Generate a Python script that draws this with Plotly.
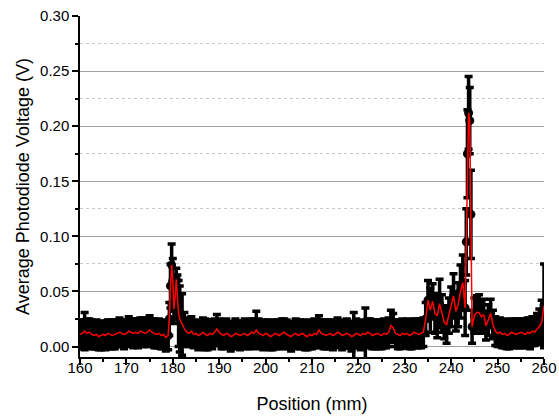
import numpy as np
import plotly.graph_objects as go

# Positions (mm): 0.5 mm step, finer (0.25 mm) across the two peaks
position = np.concatenate([
    np.arange(160, 179.01, 0.5),
    [179.25, 179.5, 179.75, 180.0, 180.25, 180.5, 180.75, 181.0, 181.25],
    np.arange(181.5, 243.01, 0.5),
    [243.25, 243.5, 243.75, 244.0, 244.25],
    np.arange(244.5, 260.01, 0.5),
])

# Average photodiode voltage (V)
voltage = [
    # 160.0 - 179.0
    0.011, 0.012, 0.014, 0.012, 0.013, 0.011, 0.010, 0.011, 0.009, 0.010,
    0.011, 0.010, 0.012, 0.011, 0.010, 0.011, 0.012, 0.013, 0.012, 0.011,
    0.012, 0.014, 0.013, 0.012, 0.013, 0.012, 0.014, 0.013, 0.012, 0.013,
    0.015, 0.013, 0.012, 0.011, 0.012, 0.010, 0.011, 0.008, 0.010,
    # 179.25 - 181.25
    0.025, 0.055, 0.074, 0.060, 0.034, 0.045, 0.061, 0.045, 0.030,
    # 181.5 - 243.0
    0.025, 0.020, 0.016, 0.013, 0.012, 0.014, 0.011,
    0.012, 0.010, 0.011, 0.013, 0.011, 0.010, 0.012, 0.011, 0.013, 0.016,
    0.013, 0.011, 0.010, 0.012, 0.011, 0.009, 0.010, 0.012, 0.011, 0.010,
    0.011, 0.012, 0.010, 0.011, 0.013, 0.012, 0.015, 0.012, 0.011, 0.010,
    0.012, 0.011, 0.009, 0.010, 0.012, 0.011, 0.010, 0.012, 0.013, 0.011,
    0.010, 0.009, 0.011, 0.012, 0.010, 0.011, 0.012, 0.010, 0.009, 0.011,
    0.010, 0.012, 0.011, 0.015, 0.012, 0.011, 0.010, 0.011, 0.012, 0.010,
    0.011, 0.013, 0.012, 0.010, 0.011, 0.012, 0.011, 0.009, 0.010, 0.012,
    0.011, 0.010, 0.012, 0.011, 0.013, 0.012, 0.010, 0.011, 0.012, 0.011,
    0.010, 0.012, 0.011, 0.013, 0.019, 0.017, 0.012, 0.011, 0.010, 0.012,
    0.011, 0.012, 0.010, 0.011, 0.013, 0.012, 0.011, 0.012, 0.013, 0.025,
    0.042, 0.033, 0.041, 0.030, 0.028, 0.039, 0.030, 0.022, 0.020, 0.028,
    0.036, 0.046, 0.032, 0.038, 0.050, 0.058, 0.035,
    # 243.25 - 244.25
    0.095, 0.175, 0.212, 0.205, 0.120,
    # 244.5 - 260.0
    0.018,
    0.028, 0.031, 0.031, 0.027, 0.029, 0.019, 0.024, 0.030, 0.020, 0.014,
    0.012, 0.013, 0.011, 0.012, 0.010, 0.011, 0.013, 0.012, 0.011, 0.012,
    0.013, 0.012, 0.011, 0.013, 0.012, 0.014, 0.013, 0.016, 0.018, 0.022,
    0.037,
]

# Error (V)
error = [
    # 160.0 - 179.0
    0.013, 0.012, 0.017, 0.013, 0.012, 0.013, 0.012, 0.013, 0.012, 0.013,
    0.012, 0.013, 0.012, 0.013, 0.012, 0.013, 0.012, 0.013, 0.012, 0.013,
    0.012, 0.013, 0.012, 0.013, 0.012, 0.013, 0.012, 0.013, 0.012, 0.013,
    0.013, 0.012, 0.013, 0.012, 0.013, 0.012, 0.013, 0.012, 0.013,
    # 179.25 - 181.25
    0.015, 0.020, 0.019, 0.020, 0.013, 0.013, 0.010, 0.020, 0.030,
    # 181.5 - 243.0
    0.030, 0.028, 0.015, 0.013, 0.012, 0.013, 0.012,
    0.012, 0.013, 0.012, 0.013, 0.014, 0.013, 0.012, 0.013, 0.012, 0.013,
    0.012, 0.013, 0.012, 0.013, 0.012, 0.013, 0.012, 0.013, 0.012, 0.013,
    0.012, 0.013, 0.012, 0.013, 0.012, 0.013, 0.017, 0.013, 0.012, 0.013,
    0.012, 0.013, 0.012, 0.013, 0.012, 0.013, 0.012, 0.013, 0.012, 0.013,
    0.012, 0.013, 0.012, 0.013, 0.012, 0.013, 0.012, 0.013, 0.012, 0.013,
    0.012, 0.013, 0.012, 0.013, 0.012, 0.013, 0.012, 0.013, 0.012, 0.013,
    0.012, 0.013, 0.012, 0.013, 0.012, 0.013, 0.012, 0.013, 0.021, 0.013,
    0.012, 0.013, 0.012, 0.024, 0.012, 0.013, 0.012, 0.013, 0.012, 0.013,
    0.012, 0.013, 0.012, 0.013, 0.014, 0.013, 0.012, 0.013, 0.012, 0.013,
    0.012, 0.013, 0.012, 0.013, 0.012, 0.013, 0.012, 0.013, 0.013, 0.015,
    0.018, 0.020, 0.016, 0.018, 0.020, 0.022, 0.017, 0.015, 0.017, 0.016,
    0.018, 0.020, 0.018, 0.020, 0.024, 0.025, 0.025,
    # 243.25 - 244.25
    0.030, 0.040, 0.033, 0.030, 0.040,
    # 244.5 - 260.0
    0.015,
    0.016, 0.015, 0.016, 0.015, 0.014, 0.013, 0.014, 0.013, 0.013, 0.013,
    0.012, 0.013, 0.012, 0.013, 0.012, 0.013, 0.012, 0.013, 0.012, 0.013,
    0.012, 0.013, 0.012, 0.013, 0.014, 0.013, 0.012, 0.014, 0.016, 0.020,
    0.038,
]

FONT = "Liberation Sans, Arial, sans-serif"

fig = go.Figure()
fig.add_trace(go.Scatter(
    x=position, y=voltage, mode="markers",
    marker=dict(color="black", size=9),
    error_y=dict(type="data", array=error, visible=True,
                 color="black", thickness=3.5, width=4),
    showlegend=False,
))
fig.add_trace(go.Scatter(
    x=position, y=voltage, mode="lines",
    line=dict(color="#ff0000", width=1.5),
    showlegend=False,
))

fig.update_layout(
    width=559, height=416,
    margin=dict(l=80, r=15, t=16, b=59),
    paper_bgcolor="white", plot_bgcolor="white",
    font=dict(family=FONT, size=15, color="black"),
)
fig.update_xaxes(
    range=[160, 260], dtick=10, tick0=160, automargin=False,
    showline=True, linecolor="black", linewidth=1.5,
    ticks="outside", ticklen=6, tickwidth=1.5, tickcolor="black",
    ticklabelstandoff=-10,
    minor=dict(dtick=5, ticks="outside", ticklen=3, tickcolor="black", showgrid=False),
    showgrid=False, zeroline=False,
    title=dict(text="Position (mm)", font=dict(size=18, family=FONT), standoff=23),
    tickfont=dict(size=15, family=FONT),
)
fig.update_yaxes(
    range=[-0.0095, 0.30], dtick=0.05, tick0=0, tickformat=".2f", automargin=False,
    showline=True, linecolor="black", linewidth=1.5,
    ticks="outside", ticklen=6, tickwidth=1.5, tickcolor="black",
    showgrid=True, gridcolor="#a0a0a0", gridwidth=1,
    minor=dict(dtick=0.025, ticks="outside", ticklen=3, tickcolor="black",
               showgrid=True, gridcolor="#c8c8c8", griddash="dot", gridwidth=1),
    zeroline=False,
    title=dict(text="Average Photodiode Voltage (V)", font=dict(size=18, family=FONT), standoff=6),
    tickfont=dict(size=15, family=FONT),
)

fig.write_html("out.html")
